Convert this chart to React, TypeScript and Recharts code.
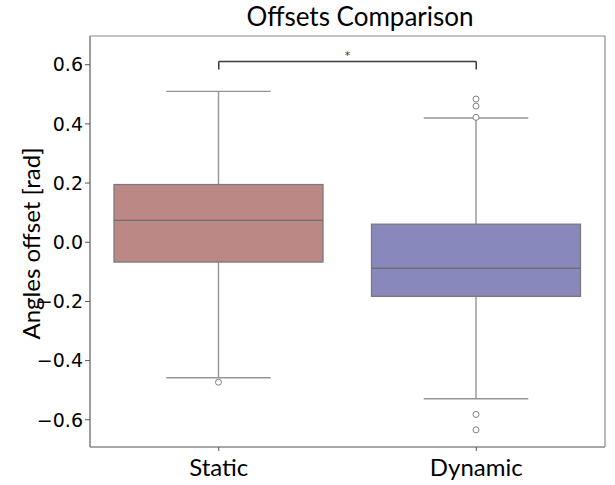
import React from 'react';
import { ComposedChart, Bar, XAxis, YAxis, CartesianGrid, ReferenceLine } from 'recharts';

// valores (rad)
const CATEGORIES = ['Static', 'Dynamic'];
const Q1 = [-0.067, -0.183];
const MEDIAN = [0.074, -0.088];
const Q3 = [0.195, 0.061];
const WHISKER_LOW = [-0.458, -0.529];
const WHISKER_HIGH = [0.510, 0.420];
const OUTLIERS = [[-0.473], [0.484, 0.460, 0.422, -0.582, -0.634]];
const BOX_COLORS = ['#bc8886', '#8888bc'];
const Y_TICKS = [-0.6, -0.4, -0.2, 0, 0.2, 0.4, 0.6];
const Y_DOMAIN: [number, number] = [-0.692, 0.697];
const BRACKET_Y = 0.611;
const BRACKET_TIP = 0.584;

const data = CATEGORIES.map((name, i) => ({
  name,
  box: [Q1[i], Q3[i]],
  q1: Q1[i], q3: Q3[i], med: MEDIAN[i],
  lo: WHISKER_LOW[i], hi: WHISKER_HIGH[i],
  out: OUTLIERS[i], color: BOX_COLORS[i],
}));

const TEXT_FONT = 'Lato, "Open Sans", sans-serif';
const NUM_FONT = '"DejaVu Sans", sans-serif';

const fmt = (v: number) => {
  const s = Math.abs(v).toFixed(1);
  return v < -1e-9 ? '\u2212' + s : s;
};

// dibuja caja + bigotes + atípicos a partir de la geometría de la barra [q1, q3]
const BoxShape = (props: any) => {
  const { x, y, width, height, payload } = props;
  if (!payload) return null;
  const top = Math.min(y, y + height);
  const h = Math.abs(height);
  const ppu = h / (payload.q3 - payload.q1);
  const py = (v: number) => top + (payload.q3 - v) * ppu;
  const cx = x + width / 2;
  const cap = width / 4;
  const wc = '#959595';
  return (
    <g>
      <line x1={cx} x2={cx} y1={py(payload.hi)} y2={top} stroke={wc} strokeWidth={1.4} />
      <line x1={cx} x2={cx} y1={top + h} y2={py(payload.lo)} stroke={wc} strokeWidth={1.4} />
      <line x1={cx - cap} x2={cx + cap} y1={py(payload.hi)} y2={py(payload.hi)} stroke={wc} strokeWidth={1.4} />
      <line x1={cx - cap} x2={cx + cap} y1={py(payload.lo)} y2={py(payload.lo)} stroke={wc} strokeWidth={1.4} />
      <rect x={x} y={top} width={width} height={h} fill={payload.color} stroke="#7a7a7a" strokeWidth={1.3} />
      <line x1={x} x2={x + width} y1={py(payload.med)} y2={py(payload.med)} stroke="#6e6e6e" strokeWidth={1.4} />
      {payload.out.map((v: number, k: number) => (
        <circle key={k} cx={cx} cy={py(v)} r={3} fill="#fff" stroke="#808080" strokeWidth={1} />
      ))}
    </g>
  );
};

const YLabel = (props: any) => {
  const vb = props.viewBox || {};
  const cx = vb.x + 30;
  const cy = vb.y + vb.height / 2 + 2;
  return (
    <text x={cx} y={cy} transform={`rotate(-90 ${cx} ${cy})`} textAnchor="middle" dominantBaseline="central"
      fontFamily={TEXT_FONT} fontSize={24} fill="#000">
      Angles offset [rad]
    </text>
  );
};

export default function App() {
  return (
    <div style={{ position: 'absolute', left: 0, top: 0, width: 615, height: 485, background: '#fff' }}>
      <div style={{
        position: 'absolute', left: 160, width: 400, top: 0, textAlign: 'center',
        fontFamily: TEXT_FONT, fontSize: 26, lineHeight: 'normal', color: '#000',
      }}>
        Offsets Comparison
      </div>
      <ComposedChart width={615} height={485} data={data} margin={{ top: 36, right: 10, bottom: 0, left: 0 }}>
        <CartesianGrid stroke="#8a8a8a" strokeWidth={1.2}
          horizontalCoordinatesGenerator={({ offset }: any) => [offset.top, offset.top + offset.height]}
          verticalCoordinatesGenerator={({ offset }: any) => [offset.left, offset.left + offset.width]} />
        <XAxis dataKey="name" height={38} tickSize={4} tickMargin={8}
          axisLine={{ stroke: '#8a8a8a', strokeWidth: 1.2 }} tickLine={{ stroke: '#555' }}
          tick={{ fill: '#000', fontSize: 24, fontFamily: TEXT_FONT }} />
        <YAxis type="number" domain={Y_DOMAIN} ticks={Y_TICKS} allowDataOverflow width={90}
          tickSize={5} tickMargin={2} tickFormatter={fmt}
          axisLine={{ stroke: '#8a8a8a', strokeWidth: 1.2 }} tickLine={{ stroke: '#555' }}
          tick={{ fill: '#000', fontSize: 19, fontFamily: NUM_FONT }}
          label={<YLabel />} />
        <Bar dataKey="box" barSize={209} shape={<BoxShape />} isAnimationActive={false} />
        <ReferenceLine segment={[{ x: CATEGORIES[0], y: BRACKET_Y }, { x: CATEGORIES[1], y: BRACKET_Y }]}
          stroke="#3a3a3a" strokeWidth={1.5}
          label={{ value: '*', position: 'top', offset: 2, fill: '#333', fontSize: 11, fontFamily: NUM_FONT }} />
        <ReferenceLine segment={[{ x: CATEGORIES[0], y: BRACKET_Y }, { x: CATEGORIES[0], y: BRACKET_TIP }]}
          stroke="#3a3a3a" strokeWidth={1.5} />
        <ReferenceLine segment={[{ x: CATEGORIES[1], y: BRACKET_Y }, { x: CATEGORIES[1], y: BRACKET_TIP }]}
          stroke="#3a3a3a" strokeWidth={1.5} />
      </ComposedChart>
    </div>
  );
}
